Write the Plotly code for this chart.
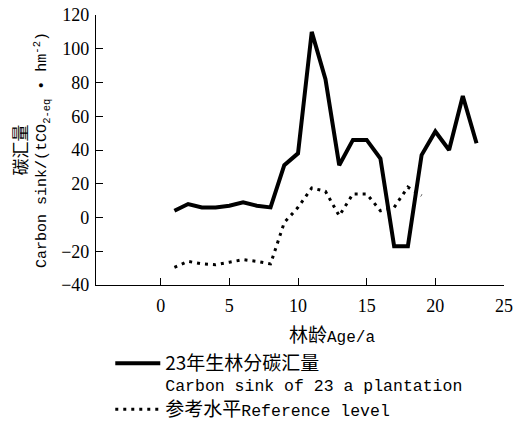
import plotly.graph_objects as go

# ---- data ----
ages_plantation = list(range(1, 24))
carbon_sink = [4, 8, 6, 6, 7, 9, 7, 6, 31, 38, 110, 82, 31, 46, 46, 35,
               -17, -17, 37, 51, 40, 72, 44]
ages_reference = list(range(1, 20))
reference_level = [-29.5, -26, -27.5, -28, -26.5, -25, -26, -27.5, -3, 6,
                   17.5, 15.5, 1, 14, 14, 4, 6, 18, 13]
x_ticks = [0, 5, 10, 15, 20, 25]
y_ticks = [-40, -20, 0, 20, 40, 60, 80, 100, 120]

MONO = "Liberation Mono, Noto Sans CJK SC, monospace"
SERIF = "Times New Roman, Liberation Serif, DejaVu Serif, serif"


def zh(s, size=19):
    return f'<span style="font-family:Noto Sans CJK SC;font-size:{size}px">{s}</span>'


fig = go.Figure()
fig.add_trace(go.Scatter(
    x=ages_plantation, y=carbon_sink, mode="lines",
    line=dict(color="black", width=4),
    name=zh("23年生林分碳汇量") + "<br>Carbon sink of 23 a plantation",
))
fig.add_trace(go.Scatter(
    x=ages_reference, y=reference_level, mode="lines",
    line=dict(color="black", width=3, dash="3px,5px"),
    name=zh("参考水平") + "Reference level",
))

axis_common = dict(
    showline=True, linecolor="black", linewidth=1.2,
    ticks="inside", ticklen=7, tickwidth=1.2, tickcolor="black",
    showgrid=False, zeroline=False,
    tickfont=dict(family=SERIF, size=18, color="black"),
)
fig.update_xaxes(range=[-4.71, 25], tickvals=x_ticks, ticklabelstandoff=4,
                 **axis_common)
fig.update_yaxes(range=[-40, 120], tickvals=y_ticks, ticklabelstandoff=2,
                 **axis_common)

# x-axis title
fig.add_annotation(
    x=12.5, xref="x", y=-0.178, yref="paper",
    text=zh("林龄") + "Age/a", showarrow=False,
    xanchor="center", yanchor="middle",
    font=dict(family=MONO, size=16, color="black"),
)
# y-axis title
fig.add_annotation(
    x=-0.162, xref="paper", y=0.5, yref="paper",
    text=zh("碳汇量", 17) + "<br>Carbon sink/(tCO<sub>2-eq</sub> • hm<sup>-2</sup>)",
    showarrow=False, textangle=-90,
    xanchor="center", yanchor="middle",
    font=dict(family=MONO, size=15, color="black"),
)

fig.update_layout(
    width=519, height=424,
    margin=dict(l=96, r=15, t=15, b=139, autoexpand=False),
    paper_bgcolor="white", plot_bgcolor="white",
    showlegend=True,
    legend=dict(
        x=0.035, y=-0.226, xanchor="left", yanchor="top",
        valign="top", bgcolor="rgba(0,0,0,0)", itemwidth=45,
        font=dict(family=MONO, size=16.5, color="black"),
        tracegroupgap=0,
    ),
)

fig.write_html("out.html")
